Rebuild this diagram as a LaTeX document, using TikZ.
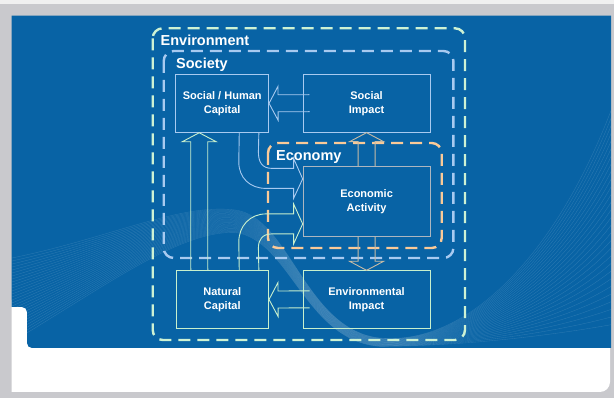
\documentclass[tikz,border=0pt]{standalone}
\usepackage{fontspec}
\setmainfont{Liberation Sans}
\usetikzlibrary{
  calc
  , positioning
}

\definecolor{panel}{RGB}{8,99,165}
\definecolor{frame}{RGB}{201,201,205}
\definecolor{mint}{RGB}{205,242,212}
\definecolor{sky}{RGB}{168,202,240}
\definecolor{peach}{RGB}{250,202,152}
\definecolor{tan}{RGB}{200,188,165}
\definecolor{stone}{RGB}{172,182,192}
\definecolor{leaf}{RGB}{200,240,205}

\begin{document}
\begin{tikzpicture}[x=1pt, y=-1pt]
      \newcommand\hollowArrow[3]{
        \coordinate (head base) at ($(#3)!9pt!(#2)$);
        \draw [arrow line, #1]
        ($(#2)!8.5pt!90:(#3)$) -- ($(head base)!8.5pt!90:(#3)$)
        -- ($(head base)!17pt!90:(#3)$) -- (#3)
        -- ($(head base)!17pt!-90:(#3)$) -- ($(head base)!8.5pt!-90:(#3)$)
        -- ($(#2)!8.5pt!-90:(#3)$);
      };

      \tikzstyle{arrow line}=[line width=0.9pt, line join=miter];
      \tikzstyle{box template}=[draw, line width=0.9pt, inner sep=0pt, align=center,
        text=white, font=\fontsize{11}{14}\selectfont\bfseries];
      \tikzstyle{region template}=[line width=2.4pt, dash pattern=on 12pt off 7pt,
        rounded corners=10pt];
      \tikzstyle{region label}=[anchor=base west, inner sep=0pt, text=white,
        font=\fontsize{14.5}{17}\selectfont\bfseries];
      \tikzstyle{wave}=[white, opacity=0.14, line width=0.35pt];

      % frame and panel
      \useasboundingbox (0,0) rectangle (614,398);
      \fill [frame] (0,0) rectangle (614,398);
      \fill [black!6] (0,0) rectangle (614,4);
      \fill [white] (11.7,300) -- (610,300) [rounded corners=10pt] -- (610,392)
        [sharp corners] -- (11.7,392) -- cycle;
      \fill [panel] (11.7,15.7) -- (611,15.7) -- (611,348) [rounded corners=5pt]
        -- (27,348) -- (27,307) [sharp corners] -- (11.7,307) -- cycle;

      % background swoosh
      \begin{scope}
        \clip (11.7,15.7) rectangle (611,348);
        \foreach \i in {0,...,28} {
          \draw [wave] (12,{258+3*\i})
          .. controls (110,{238+1.6*\i}) and (180,{203+\i}) .. (235,{210+0.8*\i})
          .. controls (290,{217+0.8*\i}) and (305,{330+0.4*\i}) .. (380,{338+0.3*\i})
          .. controls (470,346) and (560,{250+3*\i}) .. (615,{100+8*\i});
        }
      \end{scope}

      % regions
      \draw [region template, mint] (152.7,28.3) rectangle (465,340);
      \draw [region template, sky] (163.7,51) rectangle (453.4,258);
      \draw [region template, peach] (268,143) rectangle (441.7,248);
      \node [region label] (environment) at (160.5,46) {Environment};
      \node [region label] (society) at (176,68.3) {Society};
      \node [region label] (economy) at (276,160.7) {Economy};

      % boxes
      \node [box template, draw=sky, minimum width=92.8pt, minimum height=58pt]
        (shc) at (222.2,103.3) {Social / Human\\Capital};
      \node [box template, draw=sky, minimum width=127.3pt, minimum height=58pt]
        (si) at (366.6,103.2) {Social\\Impact};
      \node [box template, draw=stone, minimum width=127pt, minimum height=69.3pt]
        (ea) at (366.6,201.4) {Economic\\Activity};
      \node [box template, draw=leaf, minimum width=92.6pt, minimum height=57.6pt]
        (nc) at (222.3,299.5) {Natural\\Capital};
      \node [box template, draw=leaf, minimum width=127pt, minimum height=57.3pt]
        (ei) at (366.6,299.4) {Environmental\\Impact};

      % straight arrows
      \coordinate (si in) at ($(si.west)+(7,0)$);
      \coordinate (ei in) at ($(ei.west)+(7,0)$);
      \coordinate (nc up) at ($(nc.north)+(-23,0)$);
      \coordinate (shc down) at ($(shc.south)+(-23,0)$);
      \hollowArrow{sky}{si in}{shc.east};
      \hollowArrow{leaf}{ei in}{nc.east};
      \hollowArrow{leaf}{nc up}{shc down};
      \hollowArrow{tan}{ea.north}{si.south};
      \hollowArrow{tan}{ea.south}{ei.north};

      % bent arrows into economic activity
      \coordinate (upper tip) at ($(ea.west)+(0,-22.5)$);
      \coordinate (lower tip) at ($(ea.west)+(0,22.5)$);
      \draw [arrow line, sky]
      ($(shc.south east)+(-10.2,0)$) -- (258.4,152)
      .. controls (258.4,162) and (262,168.4) .. (272,168.4)
      -- (293.6,168.4) -- (293.6,158.4) -- (upper tip) -- (293.6,198.4)
      -- (293.6,188.4) -- (266,188.4)
      .. controls (250,188.4) and (238.8,178) .. (238.8,162)
      -- ($(shc.south east)+(-29.8,0)$);
      \draw [arrow line, leaf]
      ($(nc.north east)+(-29.8,0)$) -- (238.8,242)
      .. controls (238.8,226) and (250,213.9) .. (266,213.9)
      -- (293.6,213.9) -- (293.6,203.9) -- (lower tip) -- (293.6,243.9)
      -- (293.6,233.9) -- (272,233.9)
      .. controls (262,233.9) and (258.4,240) .. (258.4,248)
      -- ($(nc.north east)+(-10.2,0)$);

    \end{tikzpicture}
\end{document}
